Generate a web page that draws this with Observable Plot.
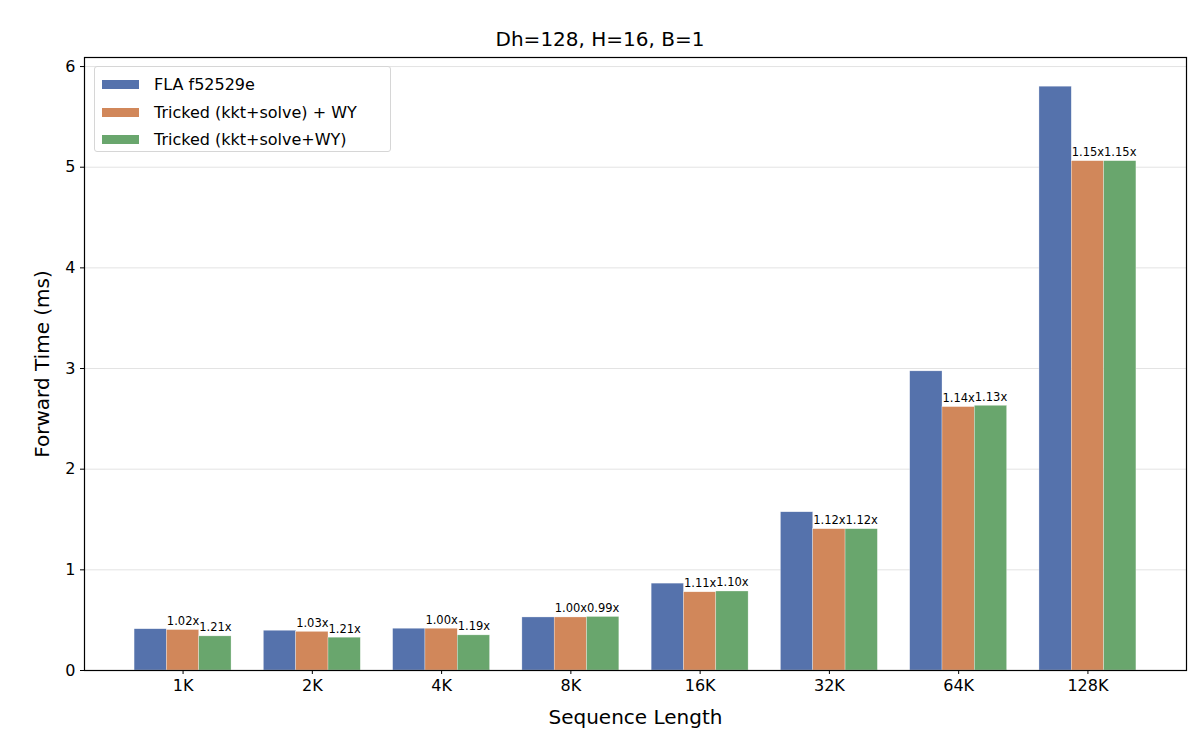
<!DOCTYPE html>
<html>
<head>
<meta charset="utf-8">
<script src="https://cdn.jsdelivr.net/npm/d3@7"></script>
<script src="https://cdn.jsdelivr.net/npm/@observablehq/plot@0.6"></script>
<style>
  body { margin: 0; background: #fff; font-family: "DejaVu Sans", sans-serif; }
  #wrap { position: relative; width: 1200px; height: 756px; }
  #title { height: 50px; text-align: center; font-size: 20px; line-height: 20px; padding-top: 29px; box-sizing: border-box; color: #000; }
  #legend { position: absolute; left: 94px; top: 66px; width: 297px; height: 86px; box-sizing: border-box;
            border: 1px solid #d6d6d6; border-radius: 3px; background: rgba(255,255,255,0.85); padding-top: 4px; }
  .row { height: 27.5px; display: flex; align-items: center; font-size: 16px; color: #000; }
  .sw { width: 37px; height: 9px; margin-left: 7px; margin-right: 15px; }
</style>
</head>
<body>
<div id="wrap">
  <div id="title">Dh=128, H=16, B=1</div>
  <div id="chart"></div>
  <div id="legend"></div>
</div>
<script>
const categories = ["1K", "2K", "4K", "8K", "16K", "32K", "64K", "128K"];
const seriesNames = ["FLA f52529e", "Tricked (kkt+solve) + WY", "Tricked (kkt+solve+WY)"];
const colors = ["#5572AC", "#D1875A", "#69A66D"];
const flaTimes = [0.41, 0.395, 0.415, 0.527, 0.863, 1.572, 2.972, 5.80];
const trickedWYTimes = [0.402, 0.384, 0.415, 0.527, 0.777, 1.404, 2.617, 5.06];
const trickedFusedTimes = [0.339, 0.326, 0.349, 0.532, 0.785, 1.404, 2.630, 5.06];
const speedupWY = ["1.02x", "1.03x", "1.00x", "1.00x", "1.11x", "1.12x", "1.14x", "1.15x"];
const speedupFused = ["1.21x", "1.21x", "1.19x", "0.99x", "1.10x", "1.12x", "1.13x", "1.15x"];
const yTicks = [0, 1, 2, 3, 4, 5, 6];

const barWidth = 0.25;
const seriesValues = [flaTimes, trickedWYTimes, trickedFusedTimes];
const seriesLabels = [null, speedupWY, speedupFused];
const rows = [];
seriesValues.forEach((vals, s) => {
  vals.forEach((v, i) => {
    const c = i + (s - 1) * barWidth;
    rows.push({series: seriesNames[s], i, x1: c - barWidth / 2, x2: c + barWidth / 2, xc: c, value: v,
               label: seriesLabels[s] ? seriesLabels[s][i] : null});
  });
});
const labelRows = rows.filter(d => d.label);

const plot = Plot.plot({
  width: 1200,
  height: 706,
  marginLeft: 84,
  marginRight: 14,
  marginTop: 7,
  marginBottom: 86,
  style: {fontFamily: "DejaVu Sans, sans-serif", fontSize: "16px", color: "#000", background: "#fff"},
  x: {domain: [-0.7625, categories.length - 1 + 0.7625]},
  y: {domain: [0, 6.09]},
  color: {domain: seriesNames, range: colors},
  marks: [
    Plot.ruleY(yTicks.slice(1), {stroke: "#e3e3e3", strokeWidth: 1}),
    Plot.rectY(rows, {x1: "x1", x2: "x2", y1: 0, y2: "value", fill: "series", stroke: "#ffffff", strokeWidth: 0.5, strokeOpacity: 0.6}),
    Plot.text(labelRows, {x: "xc", y: "value", text: "label", lineAnchor: "bottom", dy: -5, fontSize: 11.5, fill: "#000"}),
    Plot.axisX(d3.range(categories.length), {tickFormat: i => categories[i], tickSize: 4, tickPadding: 5, fontSize: 16, label: "Sequence Length", labelAnchor: "center", labelOffset: 53, labelArrow: "none"}),
    Plot.axisY(yTicks, {tickFormat: d => String(d), tickSize: 4, tickPadding: 5, fontSize: 16, label: "Forward Time (ms)", labelAnchor: "center", labelOffset: 50, labelArrow: "none"}),
    Plot.frame({stroke: "#000", strokeWidth: 1.2})
  ]
});
document.getElementById("chart").appendChild(plot);

plot.querySelectorAll("[aria-label='x-axis label'] text, [aria-label='y-axis label'] text").forEach(t => {
  t.setAttribute("font-size", "20px");
});

const legend = document.getElementById("legend");
seriesNames.forEach((name, k) => {
  const row = document.createElement("div");
  row.className = "row";
  const sw = document.createElement("div");
  sw.className = "sw";
  sw.style.background = colors[k];
  const lab = document.createElement("span");
  lab.textContent = name;
  row.appendChild(sw);
  row.appendChild(lab);
  legend.appendChild(row);
});
</script>
</body>
</html>
